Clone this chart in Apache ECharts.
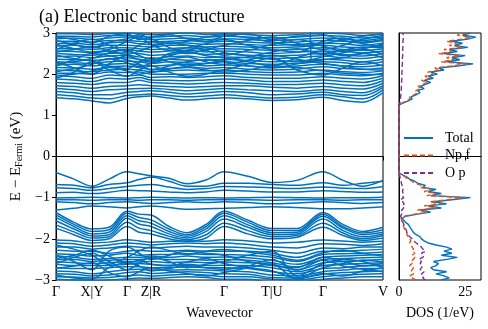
<!DOCTYPE html>
<html lang="en">
<head>
    <meta charset="UTF-8">
    <title>Band structure</title>
    <script src="https://cdn.jsdelivr.net/npm/echarts@6/dist/echarts.min.js"></script>
    <style>
        html, body { margin: 0; padding: 0; background: #fff; }
    </style>
</head>
<body>
<div id="main" style="width: 488px;height:329px;"></div>
<script>
    var FONT = 'Liberation Serif';
    var BLUE = '#0072BD', ORANGE = '#D95319', PURPLE = '#7E2F8E';

    // high-symmetry points (path distance) and labels
    var kTicks = [0, 36, 71, 95, 168, 216, 267, 327];
    var kLabels = ['Γ', 'X|Y', 'Γ', 'Z|R', 'Γ', 'T|U', 'Γ', 'V'];

    // k positions where band energies were read
    var kPts = [0, 18, 36, 53, 71, 83, 95, 113, 131, 150, 168, 192, 216, 241, 267, 287, 307, 327];

    // valence bands (eV)
    var valence = [
        [-0.39,-0.55,-0.72,-0.55,-0.37,-0.42,-0.47,-0.53,-0.66,-0.57,-0.37,-0.48,-0.63,-0.58,-0.37,-0.58,-0.72,-0.58],
        [-0.68,-0.70,-0.76,-0.68,-0.64,-0.56,-0.50,-0.60,-0.72,-0.72,-0.65,-0.65,-0.68,-0.70,-0.64,-0.70,-0.65,-0.60],
        [-0.76,-0.78,-0.82,-0.78,-0.73,-0.70,-0.68,-0.74,-0.80,-0.78,-0.73,-0.74,-0.76,-0.78,-0.74,-0.77,-0.78,-0.73],
        [-0.88,-0.87,-0.90,-0.87,-0.82,-0.83,-0.84,-0.86,-0.88,-0.86,-0.82,-0.84,-0.86,-0.86,-0.83,-0.85,-0.87,-0.86],
        [-1.01,-1.00,-0.99,-1.00,-1.01,-1.00,-0.99,-1.00,-1.01,-1.00,-1.01,-1.00,-0.99,-1.00,-1.01,-1.00,-1.00,-0.99],
        [-1.05,-1.05,-1.06,-1.05,-1.05,-1.06,-1.05,-1.05,-1.06,-1.05,-1.05,-1.05,-1.06,-1.05,-1.05,-1.06,-1.05,-1.05],
        [-1.10,-1.12,-1.15,-1.12,-1.10,-1.12,-1.14,-1.12,-1.10,-1.12,-1.10,-1.12,-1.15,-1.13,-1.10,-1.12,-1.14,-1.12],
        [-1.30,-1.26,-1.20,-1.22,-1.25,-1.22,-1.20,-1.24,-1.28,-1.27,-1.26,-1.24,-1.22,-1.24,-1.27,-1.27,-1.25,-1.22],
        [-1.36,-1.60,-1.76,-1.72,-1.33,-1.40,-1.42,-1.70,-1.85,-1.65,-1.33,-1.55,-1.75,-1.75,-1.36,-1.65,-1.82,-1.72],
        [-1.42,-1.65,-1.82,-1.78,-1.38,-1.48,-1.54,-1.76,-1.90,-1.70,-1.38,-1.60,-1.80,-1.80,-1.40,-1.70,-1.86,-1.78],
        [-1.48,-1.70,-1.88,-1.84,-1.44,-1.56,-1.62,-1.82,-1.94,-1.76,-1.44,-1.66,-1.85,-1.84,-1.45,-1.74,-1.90,-1.84],
        [-1.56,-1.76,-1.93,-1.90,-1.50,-1.64,-1.70,-1.88,-1.98,-1.82,-1.52,-1.72,-1.90,-1.88,-1.52,-1.80,-1.95,-1.88],
        [-1.66,-1.83,-1.98,-1.95,-1.60,-1.74,-1.80,-1.94,-2.02,-1.90,-1.62,-1.80,-1.95,-1.92,-1.62,-1.86,-2.00,-1.92],
        [-1.74,-1.90,-2.04,-2.00,-1.70,-1.84,-1.88,-2.00,-2.06,-1.98,-1.70,-1.88,-2.00,-1.96,-1.72,-1.92,-2.04,-1.98],
        [-2.03,-2.05,-2.10,-2.08,-2.02,-2.05,-2.08,-2.06,-2.05,-2.06,-2.02,-2.05,-2.10,-2.08,-2.03,-2.05,-2.08,-2.06],
        [-2.10,-2.12,-2.18,-2.15,-2.10,-2.12,-2.15,-2.12,-2.10,-2.12,-2.10,-2.14,-2.20,-2.22,-2.12,-2.13,-2.16,-2.12],
        [-2.20,-2.20,-2.25,-2.22,-2.18,-2.20,-2.22,-2.20,-2.18,-2.20,-2.20,-2.22,-2.28,-2.35,-2.22,-2.24,-2.20,-2.20],
        [-2.28,-2.30,-2.30,-2.35,-2.30,-2.28,-2.30,-2.30,-2.28,-2.30,-2.30,-2.30,-2.35,-2.45,-2.30,-2.30,-2.28,-2.25],
        [-2.36,-2.38,-2.42,-2.40,-2.35,-2.40,-2.38,-2.38,-2.36,-2.38,-2.38,-2.40,-2.45,-2.55,-2.38,-2.36,-2.35,-2.32],
        [-2.42,-2.45,-2.50,-2.48,-2.45,-2.45,-2.42,-2.45,-2.42,-2.45,-2.44,-2.46,-2.52,-2.62,-2.45,-2.42,-2.40,-2.38],
        [-2.50,-2.50,-2.55,-2.52,-2.50,-2.50,-2.48,-2.50,-2.50,-2.52,-2.50,-2.52,-2.58,-2.68,-2.50,-2.48,-2.46,-2.45],
        [-2.55,-2.58,-2.60,-2.58,-2.55,-2.56,-2.55,-2.58,-2.56,-2.58,-2.56,-2.58,-2.62,-2.75,-2.58,-2.55,-2.52,-2.50],
        [-2.62,-2.65,-2.65,-2.65,-2.62,-2.60,-2.62,-2.64,-2.62,-2.65,-2.64,-2.65,-2.70,-2.80,-2.65,-2.62,-2.60,-2.58],
        [-2.70,-2.72,-2.72,-2.70,-2.68,-2.68,-2.70,-2.70,-2.68,-2.70,-2.70,-2.72,-2.80,-2.85,-2.72,-2.70,-2.66,-2.65],
        [-2.78,-2.80,-2.85,-2.80,-2.75,-2.74,-2.76,-2.76,-2.75,-2.76,-2.78,-2.80,-2.88,-2.90,-2.80,-2.76,-2.72,-2.72],
        [-2.85,-2.86,-2.90,-2.88,-2.82,-2.80,-2.84,-2.82,-2.80,-2.82,-2.85,-2.86,-2.94,-2.95,-2.86,-2.82,-2.80,-2.78],
        [-2.92,-2.93,-2.95,-2.94,-2.90,-2.88,-2.90,-2.88,-2.86,-2.88,-2.92,-2.92,-2.98,-3.00,-2.92,-2.88,-2.86,-2.85],
        [-2.98,-3.00,-3.02,-3.00,-2.97,-2.95,-2.96,-2.94,-2.92,-2.94,-2.98,-2.98,-3.05,-3.05,-2.98,-2.95,-2.92,-2.92],
        [-2.60,-2.45,-2.35,-2.55,-2.75,-2.60,-2.45,-2.55,-2.70,-2.62,-2.55,-2.40,-2.30,-2.90,-2.60,-2.50,-2.55,-2.70],
        [-2.40,-2.55,-2.75,-2.30,-2.20,-2.35,-2.50,-2.40,-2.30,-2.35,-2.40,-2.55,-2.65,-2.70,-2.45,-2.55,-2.65,-2.60],
        [-2.15,-2.25,-2.40,-2.62,-2.45,-2.30,-2.20,-2.28,-2.38,-2.30,-2.26,-2.32,-2.40,-2.52,-2.34,-2.28,-2.35,-2.42],
        [-2.48,-2.40,-2.28,-2.42,-2.60,-2.52,-2.62,-2.66,-2.56,-2.48,-2.60,-2.70,-2.78,-2.95,-2.70,-2.60,-2.52,-2.56],
        [-2.72,-2.66,-2.58,-2.82,-2.92,-2.80,-2.70,-2.78,-2.84,-2.90,-2.82,-2.70,-2.62,-2.98,-2.84,-2.90,-2.78,-2.70],
        [-2.88,-2.95,-2.98,-2.70,-2.58,-2.66,-2.78,-2.72,-2.64,-2.70,-2.74,-2.66,-2.50,-2.76,-2.52,-2.66,-2.74,-2.80]
    ];

    // conduction bands (eV)
    var conduction = [
        [1.43,1.40,1.35,1.30,1.41,1.45,1.47,1.42,1.37,1.40,1.43,1.40,1.36,1.38,1.44,1.36,1.32,1.55],
        [1.50,1.47,1.42,1.40,1.48,1.50,1.52,1.48,1.45,1.47,1.50,1.46,1.42,1.44,1.50,1.45,1.40,1.62],
        [1.58,1.55,1.50,1.50,1.56,1.58,1.60,1.56,1.52,1.55,1.58,1.55,1.50,1.52,1.56,1.50,1.48,1.68],
        [1.65,1.62,1.58,1.62,1.64,1.65,1.66,1.63,1.60,1.62,1.65,1.62,1.60,1.58,1.62,1.58,1.55,1.72],
        [1.72,1.70,1.66,1.70,1.72,1.74,1.72,1.70,1.68,1.70,1.72,1.72,1.68,1.66,1.70,1.66,1.64,1.78],
        [1.80,1.78,1.75,1.80,1.80,1.85,1.80,1.78,1.76,1.78,1.80,1.78,1.75,1.75,1.78,1.74,1.72,1.84],
        [1.88,1.86,1.82,1.90,1.88,1.92,1.86,1.85,1.84,1.86,1.88,1.86,1.82,1.82,1.86,1.82,1.80,1.90],
        [1.96,1.94,1.90,1.98,1.96,1.98,1.92,1.94,1.92,1.94,1.96,1.92,1.90,1.90,1.94,1.90,1.88,1.96],
        [2.02,2.02,2.00,2.05,2.04,2.05,2.00,2.00,2.00,2.02,2.02,2.00,1.98,1.98,2.02,1.98,1.96,2.02],
        [2.10,2.08,2.06,2.10,2.12,2.10,2.06,2.08,2.10,2.08,2.10,2.06,2.04,2.05,2.10,2.06,2.04,2.08],
        [2.16,2.15,2.12,2.18,2.20,2.16,2.12,2.14,2.18,2.14,2.16,2.12,2.10,2.12,2.18,2.14,2.12,2.15],
        [2.22,2.24,2.20,2.24,2.26,2.22,2.20,2.22,2.24,2.20,2.22,2.20,2.16,2.20,2.24,2.20,2.18,2.22],
        [2.30,2.28,2.26,2.30,2.32,2.30,2.26,2.30,2.28,2.26,2.30,2.26,2.24,2.26,2.30,2.28,2.24,2.30],
        [2.36,2.35,2.34,2.36,2.40,2.36,2.32,2.36,2.34,2.34,2.36,2.33,2.30,2.32,2.36,2.34,2.30,2.36],
        [2.42,2.44,2.40,2.44,2.46,2.42,2.38,2.42,2.44,2.40,2.42,2.40,2.38,2.40,2.44,2.40,2.38,2.44],
        [2.50,2.48,2.46,2.50,2.52,2.50,2.46,2.48,2.52,2.48,2.50,2.46,2.44,2.46,2.50,2.48,2.44,2.50],
        [2.56,2.55,2.52,2.56,2.60,2.56,2.54,2.56,2.58,2.54,2.56,2.54,2.50,2.53,2.56,2.55,2.52,2.56],
        [2.62,2.62,2.60,2.64,2.64,2.62,2.60,2.62,2.64,2.60,2.62,2.60,2.58,2.60,2.64,2.60,2.58,2.62],
        [2.68,2.70,2.66,2.70,2.70,2.68,2.66,2.70,2.70,2.66,2.68,2.66,2.64,2.66,2.70,2.66,2.64,2.70],
        [2.74,2.75,2.72,2.76,2.78,2.74,2.72,2.76,2.76,2.72,2.74,2.72,2.70,2.72,2.76,2.74,2.70,2.76],
        [2.80,2.80,2.78,2.82,2.82,2.80,2.78,2.80,2.82,2.78,2.80,2.78,2.76,2.78,2.82,2.80,2.76,2.82],
        [2.86,2.88,2.84,2.88,2.90,2.86,2.84,2.86,2.88,2.84,2.86,2.84,2.82,2.84,2.88,2.86,2.82,2.88],
        [2.92,2.92,2.90,2.94,2.94,2.92,2.90,2.92,2.94,2.90,2.92,2.90,2.88,2.90,2.94,2.92,2.88,2.94],
        [2.98,2.98,2.96,2.99,3.00,2.98,2.96,2.98,3.00,2.96,2.98,2.96,2.94,2.96,3.00,2.98,2.94,2.98],
        [1.90,2.05,2.30,2.10,1.95,2.10,2.20,2.05,1.95,2.00,2.10,2.25,2.40,2.10,1.98,2.15,2.30,2.20],
        [2.30,2.15,2.00,2.25,2.45,2.35,2.30,2.50,2.55,2.45,2.40,2.30,2.20,2.40,2.55,2.45,2.50,2.40],
        [2.60,2.75,2.85,2.70,2.55,2.70,2.80,2.65,2.50,2.60,2.70,2.82,2.90,2.75,2.60,2.70,2.85,2.90],
        [2.20,2.35,2.50,2.45,2.35,2.25,2.10,2.20,2.30,2.35,2.30,2.20,2.15,2.25,2.35,2.40,2.50,2.55],
        [2.06,2.13,2.24,2.38,2.28,2.18,2.26,2.36,2.42,2.30,2.24,2.34,2.46,2.36,2.26,2.20,2.12,2.10],
        [2.46,2.38,2.32,2.20,2.14,2.28,2.40,2.30,2.20,2.26,2.34,2.42,2.54,2.62,2.48,2.58,2.66,2.64],
        [2.72,2.62,2.54,2.60,2.80,2.90,2.72,2.58,2.64,2.74,2.84,2.70,2.60,2.54,2.80,2.88,2.74,2.66],
        [2.90,2.84,2.76,2.92,2.98,2.84,2.90,2.96,2.86,2.80,2.92,2.98,2.84,2.92,2.96,2.82,2.78,2.84],
        [2.26,2.30,2.38,2.52,2.58,2.46,2.36,2.44,2.58,2.64,2.52,2.44,2.36,2.30,2.42,2.52,2.60,2.48],
        [2.54,2.60,2.68,2.56,2.48,2.56,2.66,2.76,2.70,2.58,2.46,2.58,2.72,2.84,2.68,2.56,2.62,2.74],
        [2.82,2.72,2.64,2.78,2.86,2.96,2.86,2.74,2.80,2.90,2.96,2.88,2.78,2.70,2.74,2.84,2.92,2.98],
        [1.97,2.00,2.08,2.16,2.08,2.00,2.04,2.12,2.16,2.10,2.05,2.10,2.20,2.16,2.08,2.02,2.00,1.99]
    ];

    // band with a jump near U-Γ
    var jumpK = [216, 241, 254, 255, 267];
    var jumpE = [3.2, 3.2, 3.2, 2.33, 2.35];

    // DOS energy grid (eV): valence part then conduction part
    var dosE = [-3.00,-2.95,-2.90,-2.85,-2.80,-2.75,-2.70,-2.65,-2.60,-2.55,-2.50,-2.45,-2.40,-2.35,-2.30,-2.25,-2.20,-2.15,-2.10,-2.05,
        -2.00,-1.95,-1.90,-1.85,-1.80,-1.75,-1.70,-1.65,-1.60,-1.55,-1.50,-1.45,-1.40,-1.35,-1.30,-1.25,-1.20,-1.15,-1.10,-1.05,
        -1.00,-0.95,-0.90,-0.85,-0.80,-0.75,-0.70,-0.65,-0.60,-0.55,-0.50,-0.45,-0.40,
        1.25,1.30,1.35,1.40,1.45,1.50,1.55,1.60,1.65,1.70,1.75,1.80,1.85,1.90,1.95,2.00,2.05,2.10,2.15,2.20,
        2.25,2.30,2.35,2.40,2.45,2.50,2.55,2.60,2.65,2.70,2.75,2.80,2.85,2.90,2.95,3.00];
    var dosTotal = [16,19,17,14,18,13,12,14,15,13,18,22,16,20,17,20,18,14,11,9.5,
        8.5,8,6.5,5.5,5,4.5,4,3.5,2.5,1.8,1.2,2.5,7,12,8,16,11,18,13,20,
        27,12,16,11,14,9,10,7,6,4,3,1.5,0,
        0,1.5,3.5,5,4.5,6.5,8,7,9.5,8,10,12,9.5,13,11,14.5,12,17,15,22,
        28,18,23,20,25,17,22,19,26,21,24,20,26,29,24,27];
    var dosNpf = [6.5,5,4,5.5,4.5,5,5.5,4,5,4.5,5.5,6,5,6,5,5.5,5,4.5,4,4.5,
        4,3.5,3,3,2.5,2,1.8,1.5,1.2,1,0.8,2,6,10.5,7,14.5,9.5,16,11.5,18.5,
        25,10.5,14.5,9.5,12.5,8,8.5,6,5,3.2,2.5,1.2,0,
        0,1.2,3,4.2,4,5.8,7,6.3,8.5,7.2,9,10.8,8.5,11.8,9.8,13,10.8,15.5,13.5,20,
        25.5,16,21,18,23,15,20,17,24,19,22,18,24,27,22,25];
    var dosOp = [10,9,9.5,8.5,9.5,8,8.5,9,8,8.5,7.5,9,9.5,8.5,10,9,8.5,7.5,6.5,5.5,
        5,4,3.5,3,2.8,2.5,2.2,1.8,1.5,1.2,1,0.6,1,1.5,1,1.8,1.2,2,1.4,0.6,
        1.8,1.2,1.6,1.3,1.5,1.1,1.2,0.9,0.8,0.5,0.4,0.2,0,
        0,0.3,0.5,0.6,0.6,0.7,0.8,0.8,0.9,0.9,1,1,1,1.1,1,1.1,1.1,1.2,1.1,1.2,
        1.3,1.2,1.3,1.3,1.4,1.3,1.4,1.4,1.5,1.4,1.5,1.5,1.6,1.6,1.5,1.6];

    var chart = echarts.init(document.getElementById('main'));

    function minus(v) { return String(v).replace('-', '\u2212'); }
    function bandSeries(ks, e, smooth) {
        return {
            type: 'line', xAxisIndex: 0, yAxisIndex: 0, smooth: smooth, symbol: 'none', silent: true,
            lineStyle: { color: BLUE, width: 1.5 },
            data: ks.map(function (k, i) { return [k, e[i]]; })
        };
    }
    function dosSeries(name, vals, color, dash) {
        return {
            name: name, type: 'line', xAxisIndex: 1, yAxisIndex: 1, symbol: 'none', showSymbol: false,
            lineStyle: { color: color, width: 1.4, type: dash },
            itemStyle: { color: color },
            data: vals.map(function (v, i) { return [v, dosE[i]]; })
        };
    }

    var series = [];
    valence.concat(conduction).forEach(function (b) { series.push(bandSeries(kPts, b, 0.35)); });
    series.push(bandSeries(jumpK, jumpE, false));
    // high-symmetry vertical lines and Fermi level
    series.push({
        type: 'line', xAxisIndex: 0, yAxisIndex: 0, data: [], silent: true,
        markLine: {
            symbol: 'none', silent: true, label: { show: false }, animation: false,
            lineStyle: { color: '#000', width: 1, type: 'solid' },
            data: kTicks.slice(1, -1).map(function (k) { return { xAxis: k }; }).concat([{ yAxis: 0 }])
        }
    });
    series.push(dosSeries('Total', dosTotal, BLUE, 'solid'));
    series.push(dosSeries('Np f', dosNpf, ORANGE, [5, 3]));
    series.push(dosSeries('O p', dosOp, PURPLE, [5, 3]));

    var option = {
        animation: false,
        title: {
            text: '(a) Electronic band structure', left: 34, top: 3,
            textStyle: { fontFamily: FONT, fontSize: 18, fontWeight: 'normal', color: '#000' }
        },
        legend: {
            data: ['Total', 'Np f', 'O p'], orient: 'vertical', left: 403, top: 131, padding: 0,
            itemWidth: 29, itemHeight: 14, itemGap: 3.5,
            itemStyle: { opacity: 0 },
            textStyle: { fontFamily: FONT, fontSize: 14, color: '#000', padding: [0, 0, 0, 7] }
        },
        grid: [
            { left: 56, right: 105, top: 33, bottom: 49, show: true, borderColor: '#000', borderWidth: 1 },
            { left: 399, right: 7, top: 33, bottom: 49, show: true, borderColor: '#000', borderWidth: 1 }
        ],
        xAxis: [
            {
                gridIndex: 0, type: 'value', min: 0, max: 327,
                name: 'Wavevector', nameLocation: 'middle', nameGap: 26,
                nameTextStyle: { fontFamily: FONT, fontSize: 14, color: '#000' },
                axisLine: { lineStyle: { color: '#000' } },
                axisTick: { customValues: kTicks, length: 4, lineStyle: { color: '#000' } },
                axisLabel: {
                    customValues: kTicks, fontFamily: FONT, fontSize: 14, color: '#000', margin: 5,
                    formatter: function (v) { return kLabels[kTicks.indexOf(v)]; }
                },
                splitLine: { show: false }
            },
            {
                gridIndex: 1, type: 'value', min: 0, max: 31, interval: 25,
                name: 'DOS (1/eV)', nameLocation: 'middle', nameGap: 26,
                nameTextStyle: { fontFamily: FONT, fontSize: 14, color: '#000' },
                axisLine: { lineStyle: { color: '#000' } },
                axisTick: { length: 4, lineStyle: { color: '#000' } },
                axisLabel: { fontFamily: FONT, fontSize: 14, color: '#000', margin: 5, showMaxLabel: false },
                splitLine: { show: false }
            }
        ],
        yAxis: [
            {
                gridIndex: 0, type: 'value', min: -3, max: 3, interval: 1,
                name: '{n|E \u2212 E}{s|Fermi}{n| (eV)}', nameLocation: 'middle', nameGap: 30, nameRotate: 90,
                nameTextStyle: {
                    color: '#000',
                    rich: {
                        n: { fontFamily: FONT, fontSize: 15, color: '#000', lineHeight: 16 },
                        s: { fontFamily: FONT, fontSize: 10, color: '#000', lineHeight: 16, verticalAlign: 'bottom', padding: [5, 0, 0, 0] }
                    }
                },
                axisLine: { lineStyle: { color: '#000' } },
                axisTick: { length: 4, lineStyle: { color: '#000' } },
                axisLabel: { fontFamily: FONT, fontSize: 14, color: '#000', margin: 6, formatter: minus },
                splitLine: { show: false }
            },
            {
                gridIndex: 1, type: 'value', min: -3, max: 3,
                axisLine: { lineStyle: { color: '#000' } },
                axisTick: { show: false }, axisLabel: { show: false }, splitLine: { show: false }
            }
        ],
        series: series
    };
    chart.setOption(option);
</script>
</body>
</html>
